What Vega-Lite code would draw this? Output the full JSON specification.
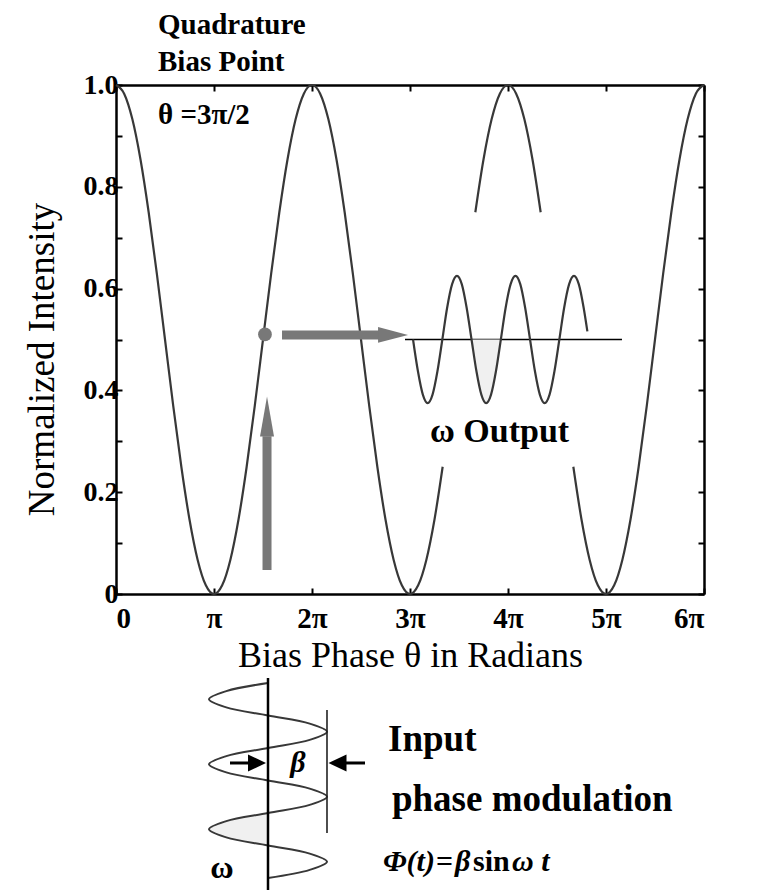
{
  "$schema": "https://vega.github.io/schema/vega-lite/v6.json",
  "width": 588,
  "height": 509,
  "autosize": "none",
  "padding": {"left": 116, "top": 85, "right": 72, "bottom": 296},
  "background": "white",
  "config": {
    "font": "Liberation Serif",
    "view": {"stroke": null},
    "axis": {
      "grid": false,
      "domainColor": "black",
      "domainWidth": 2.5,
      "tickColor": "black",
      "tickWidth": 2,
      "tickSize": -6,
      "labelFont": "Liberation Serif",
      "labelFontSize": 28,
      "labelFontWeight": "bold",
      "labelColor": "black",
      "titleFont": "Liberation Serif",
      "titleFontWeight": "normal",
      "titleFontSize": 37,
      "titleColor": "black"
    }
  },
  "datasets": {
    "curve": [
      {"t": 0, "v": 1, "s": "a"}, {"t": 0.0833, "v": 0.983, "s": "a"}, {"t": 0.1667, "v": 0.933, "s": "a"}, {"t": 0.25, "v": 0.8536, "s": "a"},
      {"t": 0.3333, "v": 0.75, "s": "a"}, {"t": 0.4167, "v": 0.6294, "s": "a"}, {"t": 0.5, "v": 0.5, "s": "a"}, {"t": 0.5833, "v": 0.3706, "s": "a"},
      {"t": 0.6667, "v": 0.25, "s": "a"}, {"t": 0.75, "v": 0.1464, "s": "a"}, {"t": 0.8333, "v": 0.067, "s": "a"}, {"t": 0.9167, "v": 0.017, "s": "a"},
      {"t": 1, "v": 0, "s": "a"}, {"t": 1.0833, "v": 0.017, "s": "a"}, {"t": 1.1667, "v": 0.067, "s": "a"}, {"t": 1.25, "v": 0.1464, "s": "a"},
      {"t": 1.3333, "v": 0.25, "s": "a"}, {"t": 1.4167, "v": 0.3706, "s": "a"}, {"t": 1.5, "v": 0.5, "s": "a"}, {"t": 1.5833, "v": 0.6294, "s": "a"},
      {"t": 1.6667, "v": 0.75, "s": "a"}, {"t": 1.75, "v": 0.8536, "s": "a"}, {"t": 1.8333, "v": 0.933, "s": "a"}, {"t": 1.9167, "v": 0.983, "s": "a"},
      {"t": 2, "v": 1, "s": "a"}, {"t": 2.0833, "v": 0.983, "s": "a"}, {"t": 2.1667, "v": 0.933, "s": "a"}, {"t": 2.25, "v": 0.8536, "s": "a"},
      {"t": 2.3333, "v": 0.75, "s": "a"}, {"t": 2.4167, "v": 0.6294, "s": "a"}, {"t": 2.5, "v": 0.5, "s": "a"}, {"t": 2.5833, "v": 0.3706, "s": "a"},
      {"t": 2.6667, "v": 0.25, "s": "a"}, {"t": 2.75, "v": 0.1464, "s": "a"}, {"t": 2.8333, "v": 0.067, "s": "a"}, {"t": 2.9167, "v": 0.017, "s": "a"},
      {"t": 3, "v": 0, "s": "a"}, {"t": 3.0833, "v": 0.017, "s": "a"}, {"t": 3.1667, "v": 0.067, "s": "a"}, {"t": 3.25, "v": 0.1464, "s": "a"},
      {"t": 3.3333, "v": 0.25, "s": "a"},
      {"t": 3.6667, "v": 0.75, "s": "b"}, {"t": 3.75, "v": 0.8536, "s": "b"}, {"t": 3.8333, "v": 0.933, "s": "b"}, {"t": 3.9167, "v": 0.983, "s": "b"},
      {"t": 4, "v": 1, "s": "b"}, {"t": 4.0833, "v": 0.983, "s": "b"}, {"t": 4.1667, "v": 0.933, "s": "b"}, {"t": 4.25, "v": 0.8536, "s": "b"},
      {"t": 4.3333, "v": 0.75, "s": "b"},
      {"t": 4.6667, "v": 0.25, "s": "c"}, {"t": 4.75, "v": 0.1464, "s": "c"}, {"t": 4.8333, "v": 0.067, "s": "c"}, {"t": 4.9167, "v": 0.017, "s": "c"},
      {"t": 5, "v": 0, "s": "c"}, {"t": 5.0833, "v": 0.017, "s": "c"}, {"t": 5.1667, "v": 0.067, "s": "c"}, {"t": 5.25, "v": 0.1464, "s": "c"},
      {"t": 5.3333, "v": 0.25, "s": "c"}, {"t": 5.4167, "v": 0.3706, "s": "c"}, {"t": 5.5, "v": 0.5, "s": "c"}, {"t": 5.5833, "v": 0.6294, "s": "c"},
      {"t": 5.6667, "v": 0.75, "s": "c"}, {"t": 5.75, "v": 0.8536, "s": "c"}, {"t": 5.8333, "v": 0.933, "s": "c"}, {"t": 5.9167, "v": 0.983, "s": "c"},
      {"t": 6, "v": 1, "s": "c"}
    ],
    "wave": [
      {"t": 3.031, "v": 0.5}, {"t": 3.081, "v": 0.4375}, {"t": 3.131, "v": 0.3917}, {"t": 3.18, "v": 0.375},
      {"t": 3.23, "v": 0.3917}, {"t": 3.28, "v": 0.4375}, {"t": 3.33, "v": 0.5}, {"t": 3.379, "v": 0.5625},
      {"t": 3.429, "v": 0.6083}, {"t": 3.479, "v": 0.625}, {"t": 3.529, "v": 0.6083}, {"t": 3.578, "v": 0.5625},
      {"t": 3.628, "v": 0.5}, {"t": 3.678, "v": 0.4375}, {"t": 3.728, "v": 0.3917}, {"t": 3.777, "v": 0.375},
      {"t": 3.827, "v": 0.3917}, {"t": 3.877, "v": 0.4375}, {"t": 3.927, "v": 0.5}, {"t": 3.976, "v": 0.5625},
      {"t": 4.026, "v": 0.6083}, {"t": 4.076, "v": 0.625}, {"t": 4.126, "v": 0.6083}, {"t": 4.175, "v": 0.5625},
      {"t": 4.225, "v": 0.5}, {"t": 4.275, "v": 0.4375}, {"t": 4.325, "v": 0.3917}, {"t": 4.374, "v": 0.375},
      {"t": 4.424, "v": 0.3917}, {"t": 4.474, "v": 0.4375}, {"t": 4.524, "v": 0.5}, {"t": 4.573, "v": 0.5625},
      {"t": 4.623, "v": 0.6083}, {"t": 4.673, "v": 0.625}, {"t": 4.723, "v": 0.6083}, {"t": 4.772, "v": 0.5625},
      {"t": 4.81, "v": 0.516}
    ],
    "waveShade": [
      {"t": 3.628, "v": 0.5}, {"t": 3.678, "v": 0.4375}, {"t": 3.728, "v": 0.3917}, {"t": 3.777, "v": 0.375},
      {"t": 3.827, "v": 0.3917}, {"t": 3.877, "v": 0.4375}, {"t": 3.927, "v": 0.5}
    ],
    "helix": [
      {"i": 0, "t": 1.551, "v": -0.17485}, {"i": 1, "t": 1.1253, "v": -0.19082}, {"i": 2, "t": 0.949, "v": -0.20678},
      {"i": 3, "t": 1.1253, "v": -0.22274}, {"i": 4, "t": 1.551, "v": -0.2387}, {"i": 5, "t": 1.9767, "v": -0.25467},
      {"i": 6, "t": 2.1531, "v": -0.27063}, {"i": 7, "t": 1.9767, "v": -0.28659}, {"i": 8, "t": 1.551, "v": -0.30255},
      {"i": 9, "t": 1.1253, "v": -0.31852}, {"i": 10, "t": 0.949, "v": -0.33448}, {"i": 11, "t": 1.1253, "v": -0.35044},
      {"i": 12, "t": 1.551, "v": -0.3664}, {"i": 13, "t": 1.9767, "v": -0.38237}, {"i": 14, "t": 2.1531, "v": -0.39833},
      {"i": 15, "t": 1.9767, "v": -0.41429}, {"i": 16, "t": 1.551, "v": -0.43026}, {"i": 17, "t": 1.1253, "v": -0.44622},
      {"i": 18, "t": 0.949, "v": -0.46218}, {"i": 19, "t": 1.1253, "v": -0.47814}, {"i": 20, "t": 1.551, "v": -0.49411},
      {"i": 21, "t": 1.9767, "v": -0.51007}, {"i": 22, "t": 2.1531, "v": -0.52603}, {"i": 23, "t": 1.9767, "v": -0.54199},
      {"i": 24, "t": 1.551, "v": -0.55796}
    ],
    "helixShade": [
      {"t": 1.551, "v": -0.43026}, {"t": 1.1253, "v": -0.44622}, {"t": 0.949, "v": -0.46218}, {"t": 1.1253, "v": -0.47814}, {"t": 1.551, "v": -0.49411}
    ],
    "notes": [
      {"label": "Quadrature", "t": 0.4286, "v": 1.118, "g": "top"},
      {"label": "Bias Point", "t": 0.4286, "v": 1.045, "g": "top"},
      {"label": "θ =3π/2", "t": 0.4286, "v": 0.941, "g": "top"},
      {"label": "ω Output", "t": 3.204, "v": 0.318, "g": "out"},
      {"label": "Input", "t": 2.776, "v": -0.287, "g": "in"},
      {"label": "phase modulation", "t": 2.816, "v": -0.405, "g": "in"},
      {"label": "=", "t": 3.265, "v": -0.5265, "g": "fn"},
      {"label": "sin", "t": 3.643, "v": -0.5265, "g": "fn"},
      {"label": "Φ(t)", "t": 2.724, "v": -0.5265, "g": "fi"},
      {"label": "β", "t": 3.459, "v": -0.5265, "g": "fi"},
      {"label": "ω t", "t": 4.041, "v": -0.5265, "g": "fi"},
      {"label": "β", "t": 1.857, "v": -0.332, "g": "beta"},
      {"label": "ω", "t": 1.082, "v": -0.538, "g": "om"}
    ]
  },
  "resolve": {"axis": {"x": "independent", "y": "independent"}},
  "layer": [
    {
      "data": {"name": "curve"},
      "mark": {"type": "line", "color": "#383838", "strokeWidth": 2.2, "interpolate": "monotone", "clip": false},
      "encoding": {
        "x": {"field": "t", "type": "quantitative", "scale": {"domain": [0, 6], "nice": false, "zero": false},
          "axis": {"orient": "bottom", "values": [0, 1, 2, 3, 4, 5, 6], "labelExpr": "datum.value == 0 ? '0' : (datum.value == 1 ? 'π' : datum.value + 'π')", "labelFontSize": 29, "labelPadding": 16, "title": "Bias Phase  θ  in Radians", "titleFontSize": 36, "titlePadding": 5}},
        "y": {"field": "v", "type": "quantitative", "scale": {"domain": [0, 1], "nice": false, "zero": false},
          "axis": {"orient": "left", "values": [0, 0.1, 0.2, 0.3, 0.4, 0.5, 0.6, 0.7, 0.8, 0.9, 1], "labelExpr": "round(datum.value * 10) % 2 == 1 ? '' : (datum.value == 0 ? '0' : format(datum.value, '.1f'))", "labelPadding": 4, "title": "Normalized Intensity", "titlePadding": 22, "titleY": 274}},
        "detail": {"field": "s", "type": "nominal"}
      }
    },
    {
      "data": {"values": [{"t": 2.949, "t2": 5.163, "v": 0.5}]},
      "mark": {"type": "rule", "color": "black", "strokeWidth": 1.5, "clip": false},
      "encoding": {
        "x": {"field": "t", "type": "quantitative", "axis": {"orient": "top", "values": [0, 1, 2, 3, 4, 5, 6], "labels": false, "title": null}},
        "x2": {"field": "t2"},
        "y": {"field": "v", "type": "quantitative", "axis": {"orient": "right", "values": [0, 0.1, 0.2, 0.3, 0.4, 0.5, 0.6, 0.7, 0.8, 0.9, 1], "labels": false, "title": null}}
      }
    },
    {
      "data": {"name": "waveShade"},
      "mark": {"type": "area", "color": "#f0f0f0", "interpolate": "monotone", "clip": false},
      "encoding": {
        "x": {"field": "t", "type": "quantitative", "axis": null},
        "y": {"field": "v", "type": "quantitative", "axis": null},
        "y2": {"datum": 0.5}
      }
    },
    {
      "data": {"name": "wave"},
      "mark": {"type": "line", "color": "#383838", "strokeWidth": 2.2, "interpolate": "monotone", "clip": false},
      "encoding": {
        "x": {"field": "t", "type": "quantitative", "axis": null},
        "y": {"field": "v", "type": "quantitative", "axis": null}
      }
    },
    {
      "data": {"values": [{"t": 1.694, "t2": 2.7, "v": 0.509, "v2": 0.509}, {"t": 1.541, "t2": 1.541, "v": 0.047, "v2": 0.31}]},
      "mark": {"type": "rule", "color": "#787878", "strokeWidth": 9, "clip": false},
      "encoding": {
        "x": {"field": "t", "type": "quantitative", "axis": null},
        "x2": {"field": "t2"},
        "y": {"field": "v", "type": "quantitative", "axis": null},
        "y2": {"field": "v2"}
      }
    },
    {
      "data": {"values": [{"t": 2.827, "v": 0.509}]},
      "mark": {"type": "point", "shape": "M-1,-0.53L1,0L-1,0.53Z", "size": 900, "filled": true, "color": "#787878", "opacity": 1, "clip": false},
      "encoding": {
        "x": {"field": "t", "type": "quantitative", "axis": null},
        "y": {"field": "v", "type": "quantitative", "axis": null}
      }
    },
    {
      "data": {"values": [{"t": 1.541, "v": 0.3487}]},
      "mark": {"type": "point", "shape": "M-0.35,1L0,-1L0.35,1Z", "size": 1600, "filled": true, "color": "#787878", "opacity": 1, "clip": false},
      "encoding": {
        "x": {"field": "t", "type": "quantitative", "axis": null},
        "y": {"field": "v", "type": "quantitative", "axis": null}
      }
    },
    {
      "data": {"values": [{"t": 1.52, "v": 0.51}]},
      "mark": {"type": "circle", "size": 190, "color": "#787878", "opacity": 1, "clip": false},
      "encoding": {
        "x": {"field": "t", "type": "quantitative", "axis": null},
        "y": {"field": "v", "type": "quantitative", "axis": null}
      }
    },
    {
      "data": {"name": "helixShade"},
      "mark": {"type": "area", "orient": "horizontal", "color": "#f0f0f0", "interpolate": "catmull-rom", "clip": false},
      "encoding": {
        "y": {"field": "v", "type": "quantitative", "axis": null},
        "x": {"field": "t", "type": "quantitative", "axis": null},
        "x2": {"datum": 1.551}
      }
    },
    {
      "data": {"name": "helix"},
      "mark": {"type": "line", "color": "#383838", "strokeWidth": 2, "interpolate": "catmull-rom", "clip": false},
      "encoding": {
        "x": {"field": "t", "type": "quantitative", "axis": null},
        "y": {"field": "v", "type": "quantitative", "axis": null},
        "order": {"field": "i", "type": "quantitative"}
      }
    },
    {
      "data": {"values": [{"t": 1.551, "t2": 1.551, "v": -0.165, "v2": -0.5815}]},
      "mark": {"type": "rule", "color": "black", "strokeWidth": 2.5, "clip": false},
      "encoding": {
        "x": {"field": "t", "type": "quantitative", "axis": null},
        "x2": {"field": "t2"},
        "y": {"field": "v", "type": "quantitative", "axis": null},
        "y2": {"field": "v2"}
      }
    },
    {
      "data": {"values": [{"t": 2.153, "t2": 2.153, "v": -0.2279, "v2": -0.4695}]},
      "mark": {"type": "rule", "color": "#222222", "strokeWidth": 1.6, "clip": false},
      "encoding": {
        "x": {"field": "t", "type": "quantitative", "axis": null},
        "x2": {"field": "t2"},
        "y": {"field": "v", "type": "quantitative", "axis": null},
        "y2": {"field": "v2"}
      }
    },
    {
      "data": {"values": [{"t": 1.163, "t2": 1.4, "v": -0.332, "v2": -0.332}, {"t": 2.33, "t2": 2.541, "v": -0.332, "v2": -0.332}]},
      "mark": {"type": "rule", "color": "black", "strokeWidth": 3, "clip": false},
      "encoding": {
        "x": {"field": "t", "type": "quantitative", "axis": null},
        "x2": {"field": "t2"},
        "y": {"field": "v", "type": "quantitative", "axis": null},
        "y2": {"field": "v2"}
      }
    },
    {
      "data": {"values": [{"t": 1.439, "v": -0.332}]},
      "mark": {"type": "point", "shape": "M-1,-0.95L1,0L-1,0.95Z", "size": 324, "filled": true, "color": "black", "opacity": 1, "clip": false},
      "encoding": {
        "x": {"field": "t", "type": "quantitative", "axis": null},
        "y": {"field": "v", "type": "quantitative", "axis": null}
      }
    },
    {
      "data": {"values": [{"t": 2.26, "v": -0.332}]},
      "mark": {"type": "point", "shape": "M1,-0.95L-1,0L1,0.95Z", "size": 324, "filled": true, "color": "black", "opacity": 1, "clip": false},
      "encoding": {
        "x": {"field": "t", "type": "quantitative", "axis": null},
        "y": {"field": "v", "type": "quantitative", "axis": null}
      }
    },
    {
      "data": {"name": "notes"},
      "transform": [{"filter": "datum.g == 'top'"}],
      "mark": {"type": "text", "font": "Liberation Serif", "fontSize": 29, "fontWeight": "bold", "align": "left", "baseline": "middle", "color": "black", "clip": false},
      "encoding": {
        "x": {"field": "t", "type": "quantitative", "axis": null},
        "y": {"field": "v", "type": "quantitative", "axis": null},
        "text": {"field": "label"}
      }
    },
    {
      "data": {"name": "notes"},
      "transform": [{"filter": "datum.g == 'out'"}],
      "mark": {"type": "text", "font": "Liberation Serif", "fontSize": 34, "fontWeight": "bold", "align": "left", "baseline": "middle", "color": "black", "clip": false},
      "encoding": {
        "x": {"field": "t", "type": "quantitative", "axis": null},
        "y": {"field": "v", "type": "quantitative", "axis": null},
        "text": {"field": "label"}
      }
    },
    {
      "data": {"name": "notes"},
      "transform": [{"filter": "datum.g == 'in'"}],
      "mark": {"type": "text", "font": "Liberation Serif", "fontSize": 37, "fontWeight": "bold", "align": "left", "baseline": "middle", "color": "black", "clip": false},
      "encoding": {
        "x": {"field": "t", "type": "quantitative", "axis": null},
        "y": {"field": "v", "type": "quantitative", "axis": null},
        "text": {"field": "label"}
      }
    },
    {
      "data": {"name": "notes"},
      "transform": [{"filter": "datum.g == 'fn'"}],
      "mark": {"type": "text", "font": "Liberation Serif", "fontSize": 30, "fontWeight": "bold", "align": "left", "baseline": "middle", "color": "black", "clip": false},
      "encoding": {
        "x": {"field": "t", "type": "quantitative", "axis": null},
        "y": {"field": "v", "type": "quantitative", "axis": null},
        "text": {"field": "label"}
      }
    },
    {
      "data": {"name": "notes"},
      "transform": [{"filter": "datum.g == 'fi'"}],
      "mark": {"type": "text", "font": "Liberation Serif", "fontSize": 30, "fontWeight": "bold", "fontStyle": "italic", "align": "left", "baseline": "middle", "color": "black", "clip": false},
      "encoding": {
        "x": {"field": "t", "type": "quantitative", "axis": null},
        "y": {"field": "v", "type": "quantitative", "axis": null},
        "text": {"field": "label"}
      }
    },
    {
      "data": {"name": "notes"},
      "transform": [{"filter": "datum.g == 'beta'"}],
      "mark": {"type": "text", "font": "Liberation Serif", "fontSize": 30, "fontWeight": "bold", "fontStyle": "italic", "align": "center", "baseline": "middle", "color": "black", "clip": false},
      "encoding": {
        "x": {"field": "t", "type": "quantitative", "axis": null},
        "y": {"field": "v", "type": "quantitative", "axis": null},
        "text": {"field": "label"}
      }
    },
    {
      "data": {"name": "notes"},
      "transform": [{"filter": "datum.g == 'om'"}],
      "mark": {"type": "text", "font": "Liberation Serif", "fontSize": 32, "fontWeight": "bold", "align": "center", "baseline": "middle", "color": "black", "clip": false},
      "encoding": {
        "x": {"field": "t", "type": "quantitative", "axis": null},
        "y": {"field": "v", "type": "quantitative", "axis": null},
        "text": {"field": "label"}
      }
    }
  ]
}
